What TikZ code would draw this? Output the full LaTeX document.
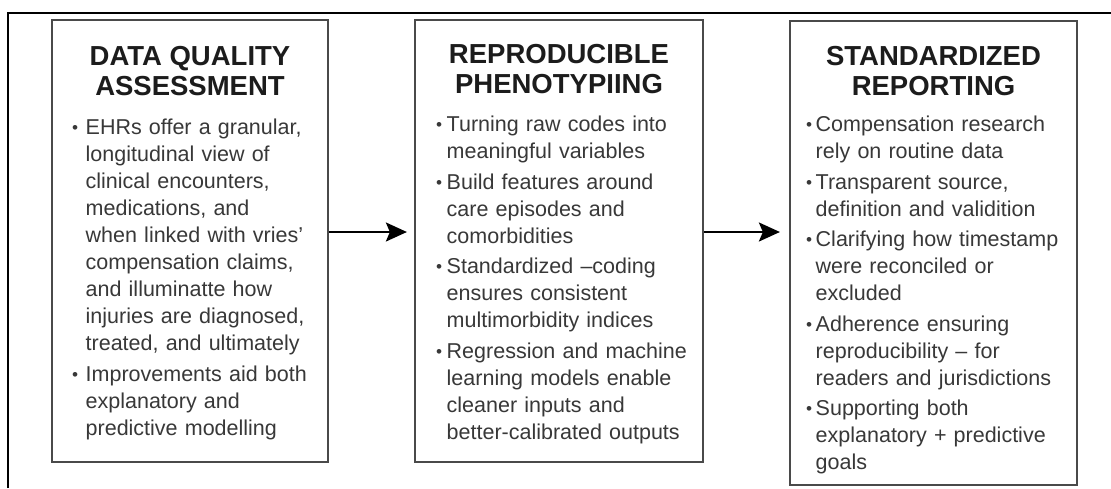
\documentclass[tikz,border=0pt]{standalone}
\usepackage{fontspec}
\setmainfont{Liberation Sans}
\usetikzlibrary{arrows.meta}

\definecolor{framegray}{HTML}{4A4A4A}
\definecolor{titleink}{HTML}{1C1C1C}
\definecolor{bodyink}{HTML}{383838}

% width of the bullet column, set per panel
\newlength\bw
\newcommand\bulletmark{\raisebox{0.9pt}{\scalebox{0.8}{\textbullet}}}
\newcommand\bul[1]{\hangindent=\bw\hangafter=1\noindent\makebox[\bw][l]{\bulletmark}#1\par}
\newcommand\bulsep{\vskip 3.5pt}

\tikzset{
  panel/.style={draw=framegray, line width=2.2pt, fill=white, inner sep=0pt},
  paneltitle/.style={font=\fontsize{27.5}{30}\selectfont\bfseries, text=titleink,
    align=center, inner sep=0pt},
  panelbody/.style={anchor=north west, inner sep=0pt, text width=280pt, align=left,
    font=\fontsize{21.5}{27}\selectfont, text=bodyink},
  flow/.style={line width=2.2pt, -{Stealth[length=21pt, width=19pt, inset=4pt]}},
}

\begin{document}
\begin{tikzpicture}[x=1pt, y=-1pt]
\useasboundingbox (0,0) rectangle (1111,488);

% outer frame (left and top edges)
\draw[line width=1.6pt] (8,488) -- (8,13) -- (1111,13);

% panels
\node[panel, minimum width=276pt, minimum height=442pt] (dqa) at (190,241) {};
\node[panel, minimum width=288pt, minimum height=442pt] (rph) at (559,241) {};
\node[panel, minimum width=287pt, minimum height=464pt] (srp) at (933.5,253) {};

% titles
\node[paneltitle] (dqaT) at (190,71) {DATA QUALITY\\ASSESSMENT};
\node[paneltitle] (rphT) at (559,69) {REPRODUCIBLE\\PHENOTYPIING};
\node[paneltitle] (srpT) at (933.5,71) {STANDARDIZED\\REPORTING};

% bodies
\node[panelbody] (dqaB) at (72,119) {\setlength\bw{13.5pt}\parskip=0pt
  \bul{EHRs offer a granular,\newline longitudinal view of\newline clinical encounters,\newline medications, and\newline when linked with vries'\newline compensation claims,\newline and illuminatte how\newline injuries are diagnosed,\newline treated, and ultimately}\bulsep
  \bul{Improvements aid both\newline explanatory and\newline predictive modelling}};

\node[panelbody] (rphB) at (436,116) {\setlength\bw{10.5pt}\parskip=0pt
  \bul{Turning raw codes into\newline meaningful variables}\bulsep
  \bul{Build features around\newline care episodes and\newline comorbidities}\bulsep
  \bul{Standardized {\textendash}coding\newline ensures consistent\newline multimorbidity indices}\bulsep
  \bul{Regression and machine\newline learning models enable\newline cleaner inputs and\newline better-calibrated outputs}};

\node[panelbody] (srpB) at (806,116) {\setlength\bw{9.5pt}\parskip=0pt
  \bul{Compensation research\newline rely on routine data}\bulsep
  \bul{Transparent source,\newline definition and validition}\bulsep
  \bul{Clarifying how timestamp\newline were reconciled or\newline excluded}\bulsep
  \bul{Adherence ensuring\newline reproducibility {\textendash} for\newline readers and jurisdictions}\bulsep
  \bul{Supporting both\newline explanatory + predictive\newline goals}};

% connectors
\draw[flow] (dqa.east |- 0,232) -- ([xshift=-7pt]rph.west |- 0,232);
\draw[flow] (rph.east |- 0,232) -- ([xshift=-9pt]srp.west |- 0,232);
\end{tikzpicture}
\end{document}
